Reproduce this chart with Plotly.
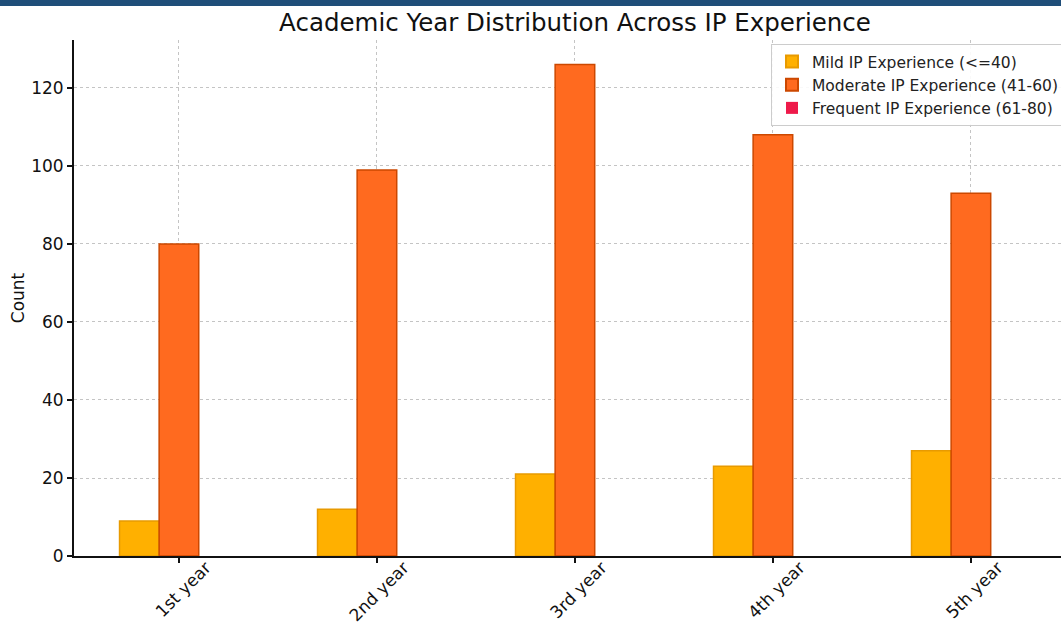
import plotly.graph_objects as go

categories = ["1st year", "2nd year", "3rd year", "4th year", "5th year"]
mild = [9, 12, 21, 23, 27]
moderate = [80, 99, 126, 108, 93]
frequent = [0, 0, 0, 0, 0]
y_ticks = [0, 20, 40, 60, 80, 100, 120]

series = [
    ("Mild IP Experience (<=40)", mild, "#FFB000", "#E89A00", 1.5),
    ("Moderate IP Experience (41-60)", moderate, "#FF6A1F", "#CC4800", 1.5),
    ("Frequent IP Experience (61-80)", frequent, "#EE1A4A", "#C40030", 0),
]

FONT = "DejaVu Sans, Verdana, sans-serif"
L, T, B = 74, 40, 68
W, H = 1061, 624
PW, PH = W - L, H - T - B

fig = go.Figure()
for name, vals, fill, edge, lw in series:
    fig.add_trace(go.Bar(
        x=list(range(len(categories))), y=vals, name=name,
        marker=dict(color=fill, line=dict(color=edge, width=lw)),
    ))

fig.update_layout(
    width=W, height=H,
    margin=dict(l=L, r=0, t=T, b=B, autoexpand=False),
    paper_bgcolor="white", plot_bgcolor="white",
    barmode="group", bargap=0.4, bargroupgap=0,
    font=dict(family=FONT, size=17, color="#111"),
    title=dict(text="Academic Year Distribution Across IP Experience",
               x=575/W, xanchor="center", y=1-22/H, yanchor="middle",
               font=dict(size=24.5, color="#111")),
    legend=dict(x=(771-L)/PW, y=1-(44-T)/PH, xanchor="left", yanchor="top",
                bgcolor="rgba(255,255,255,0.9)", bordercolor="#cccccc", borderwidth=1,
                font=dict(size=15.5, color="#222"), itemsizing="constant",
                tracegroupgap=0),
    showlegend=True,
)
fig.update_xaxes(
    tickmode="array", tickvals=list(range(len(categories))), ticktext=categories,
    range=[-0.53, 4.455], tickangle=-45, automargin=False,
    showline=True, linecolor="#111", linewidth=2,
    ticks="outside", ticklen=5, tickcolor="#111", tickwidth=1.5,
    ticklabelshift=27, ticklabelstandoff=-12,
    showgrid=True, gridcolor="#c4c4c4", griddash="dot", gridwidth=1,
    zeroline=False, tickfont=dict(size=17),
)
fig.update_yaxes(
    range=[0, 132.3], tickvals=y_ticks, automargin=False,
    title=dict(text="Count", font=dict(size=17), standoff=2),
    showline=True, linecolor="#111", linewidth=2,
    ticks="outside", ticklen=5, tickcolor="#111", tickwidth=1.5,
    showgrid=True, gridcolor="#c4c4c4", griddash="dot", gridwidth=1,
    zeroline=False, tickfont=dict(size=17),
)
# Top decorative band (pixels 0..6 of the page)
fig.add_shape(type="rect", xref="paper", yref="paper",
              x0=-L/PW, x1=1.0, y0=1 + (T-6)/PH, y1=1 + (T+2)/PH,
              fillcolor="#1F4E79", line=dict(width=0), layer="above")

fig.write_html("out.html", config={"displayModeBar": False},
               post_script="document.body.style.margin='0';document.body.style.overflow='hidden';")
